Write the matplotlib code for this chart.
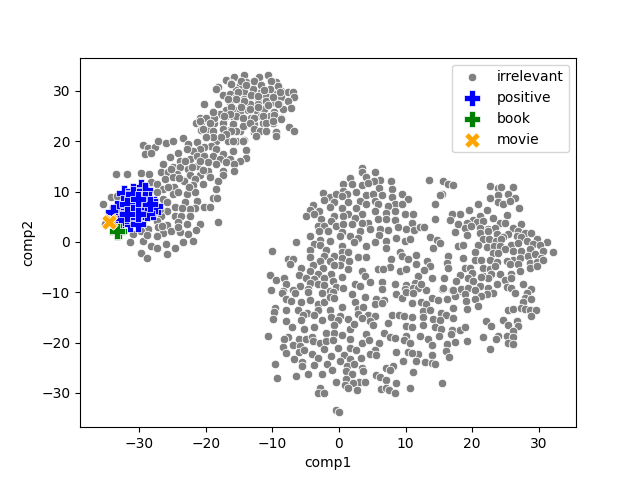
import matplotlib
matplotlib.use("Agg")
import matplotlib.pyplot as plt
import numpy as np

# (comp1, comp2), one list per blob
irrelevant_upper = [
    (-16.9,32.2),(-15.7,32.8),(-14.2,33.2),(-12.0,32.8),(-10.7,33.1),(-10.2,32.0),(-18.2,30.8),(-18.5,30.3),
    (-16.2,31.5),(-14.9,31.2),(-13.9,31.7),(-12.7,32.0),(-11.7,31.2),(-9.4,31.7),(-15.4,30.2),(-14.2,29.7),
    (-12.9,30.4),(-11.7,29.7),(-10.4,30.4),(-8.7,30.0),(-7.7,29.7),(-6.9,29.7),(-6.7,28.8),(-17.4,29.2),
    (-16.4,29.4),(-15.4,28.7),(-14.2,28.4),(-13.2,29.0),(-12.2,28.6),(-10.9,29.0),(-9.7,29.4),(-8.7,28.7),
    (-7.7,27.9),(-7.2,26.5),(-20.3,27.3),(-18.2,27.3),(-16.4,27.7),(-14.7,27.1),(-13.4,27.4),(-12.2,27.4),
    (-10.9,27.7),(-9.9,27.7),(-9.0,27.4),(-15.9,26.4),(-16.9,26.1),(-17.9,25.4),(-18.9,25.7),(-19.9,24.7),
    (-20.9,24.6),(-21.5,23.7),(-20.7,23.7),(-18.7,24.6),(-18.7,23.6),(-16.9,25.1),(-14.9,25.7),(-13.7,26.1),
    (-12.4,26.1),(-11.2,26.4),(-9.7,25.7),(-8.4,26.4),(-15.7,24.7),(-14.4,24.7),(-13.2,24.7),(-11.7,25.1),
    (-10.4,25.1),(-8.7,24.6),(-17.4,23.7),(-15.9,23.4),(-14.2,23.1),(-12.7,23.4),(-11.4,23.7),(-9.9,23.7),
    (-7.5,22.9),(-6.7,22.0),(-20.7,22.3),(-19.7,22.2),(-18.9,22.0),(-17.4,22.4),(-16.2,22.4),(-14.9,22.1),
    (-12.7,21.8),(-11.9,22.1),(-10.9,22.0),(-9.4,21.8),(-12.4,21.1),(-20.0,20.9),(-21.4,19.8),(-23.4,20.6),
    (-22.7,19.4),(-17.7,20.8),(-18.4,20.1),(-16.7,20.1),(-15.4,20.1),(-14.2,20.2),(-19.2,19.1),(-20.2,18.9),
    (-20.9,18.5),(-21.9,18.0),(-22.9,18.5),(-24.2,17.6),(-25.4,16.9),(-18.4,18.5),(-17.4,17.5),(-15.9,18.0),
    (-13.9,18.3),(-29.4,19.3),(-28.7,18.6),(-27.7,18.8),(-27.2,20.1),(-26.0,19.7),(-25.0,20.1),(-29.2,17.5),
    (-28.2,17.6),(-23.9,16.1),(-22.4,16.5),(-21.4,17.1),(-20.2,17.1),(-18.9,17.1),(-17.9,16.5),(-16.4,16.5),
    (-14.0,16.7),(-14.9,16.0),(-16.9,15.8),(-15.7,15.5),(-26.4,15.5),(-24.9,14.8),(-23.9,14.8),(-22.7,14.5),
    (-21.4,15.1),(-19.7,15.8),(-19.7,14.1),(-17.4,14.1),(-18.4,15.5),(-15.8,14.0),(-26.7,13.8),(-25.7,13.8),
    (-24.4,13.5),(-22.4,13.2),(-20.9,13.2),(-19.4,12.8),(-17.4,13.2),(-18.2,12.0),(-33.5,13.5),(-31.9,13.4),
    (-29.8,13.7),(-28.5,13.4),(-28.2,11.8),(-26.2,12.5),(-24.9,12.8),(-23.4,12.2),(-21.6,12.5),(-27.3,11.5),
    (-26.4,10.5),(-24.8,11.0),(-23.3,12.0),(-21.9,11.2),(-20.4,11.4),(-18.5,10.5),(-27.3,10.0),(-22.9,9.6),
    (-21.7,10.0),(-24.9,9.5),(-26.4,8.5),(-23.2,7.9),(-21.4,8.2),(-18.9,8.8),(-18.3,8.8),(-20.2,7.0),
    (-19.4,6.9),(-21.7,6.7),(-24.7,6.9),(-25.8,7.9),(-25.8,6.2),(-22.4,6.5),(-24.7,5.2),(-23.7,5.2),
    (-22.4,5.2),(-26.7,5.2),(-22.9,3.5),(-24.2,3.9),(-25.8,3.4),(-18.2,4.0),(-20.9,3.5),(-27.4,4.2),
    (-27.2,2.9),(-28.7,2.6),(-30.9,1.6),(-29.7,2.2),(-26.4,1.7),(-25.2,2.2),(-23.9,1.9),(-22.7,1.6),
    (-27.4,1.2),(-31.4,-0.1),(-29.4,0.2),(-26.0,-0.4),(-23.4,-0.1),(-21.9,0.1),(-28.2,-0.8),(-27.4,-1.3),
    (-24.7,-1.3),(-29.7,-2.3),(-28.9,-3.1),(-25.8,-2.5),(-34.2,9.0),(-35.5,7.5),(-35.2,3.5),(-33.4,9.2),
]

# second, closer reading of the dense part of the upper blob
irrelevant_upper_dense = [
    (-16.2,31.4),(-14.7,32.0),(-13.9,31.2),(-12.7,32.0),(-11.7,31.2),(-10.2,32.0),(-10.4,30.4),(-9.2,31.0),
    (-15.2,29.8),(-13.2,29.2),(-12.2,28.9),(-11.2,30.2),(-10.9,28.0),(-8.9,29.7),(-9.9,28.7),(-14.2,28.0),
    (-15.4,28.4),(-16.7,28.4),(-16.2,26.7),(-14.7,26.7),(-13.4,26.4),(-12.2,26.7),(-10.7,27.2),(-9.2,27.4),
    (-15.4,25.1),(-14.4,24.7),(-12.7,24.7),(-11.4,25.1),(-9.7,25.2),(-8.7,24.5),(-16.4,25.4),(-17.2,25.1),
    (-14.4,23.1),(-13.4,23.7),(-10.9,23.7),(-9.9,24.1),(-15.9,23.4),(-12.7,22.4),(-11.9,22.1),(-10.9,22.1),
    (-9.4,21.8),(-9.4,21.1),(-12.4,21.1),(-15.4,22.0),(-16.2,22.1),(-16.9,21.4),(-17.7,20.8),(-15.9,20.1),
    (-14.4,20.1),(-18.7,24.7),(-18.9,25.7),(-19.9,24.7),(-20.9,24.1),(-19.4,23.7),(-20.4,22.4),(-18.9,20.8),
    (-19.9,20.8),(-22.1,14.8),(-25.2,14.5),(-23.2,16.0),(-20.9,16.1),(-24.0,12.6),(-20.5,14.2),(-22.6,11.0),
    (-25.7,11.0),(-24.2,9.9),(-23.6,6.8),(-26.9,6.6),(-24.2,2.9),(-21.5,2.4),(-28.9,1.3),(-26.6,3.2),
]

irrelevant_top = [
    (3.4,14.6),(3.4,13.8),(5.4,13.9),(4.0,12.8),(1.7,12.7),(7.8,12.1),(6.1,12.3),(5.3,12.1),(0.6,11.5),
    (2.0,11.5),(3.4,11.3),(4.4,11.6),(0.6,10.1),(6.0,10.7),(7.9,10.5),(-2.4,9.8),(1.2,9.6),(2.6,10.0),
    (4.1,9.3),(5.1,9.5),(6.4,9.3),(7.9,9.0),(9.4,9.5),(10.3,8.5),(-1.4,9.0),(-0.5,9.5),(0.5,9.1),(-2.2,8.3),
    (-0.7,8.0),(1.4,8.0),(3.1,8.1),(5.4,8.1),(8.4,7.6),(9.5,7.5),(-3.9,7.3),(-1.4,7.0),(0.4,6.8),(2.6,6.8),
    (4.1,7.5),(5.9,7.5),(7.4,7.2),(-4.4,6.3),(-3.0,6.2),(-4.9,5.2),(-3.8,5.6),(8.4,6.2),(1.4,5.5),(-0.7,5.2),
    (3.4,5.5),(5.4,6.2),(7.1,5.8),(9.9,5.6),(11.1,5.5),(-1.2,4.2),(-2.7,4.5),(0.6,5.2),(2.4,4.8),(4.4,3.8),
    (5.9,4.5),(7.1,4.5),(8.4,4.3),(10.9,3.7),(-3.2,3.2),(-2.2,3.2),(-0.4,3.1),(0.6,3.5),(1.9,3.5),(3.4,3.8),
    (8.9,2.9),(10.1,2.5),(11.2,2.4),(12.1,2.9),(-3.0,2.1),(-1.6,2.1),(0.4,2.0),(1.6,1.2),(3.1,2.2),(4.6,2.5),
    (6.1,2.5),(7.4,2.4),(-4.4,1.2),(0.1,1.1),(-1.3,0.2),(-2.8,0.3),(2.9,0.7),(6.0,1.4),(-6.4,-0.1),(-3.8,-0.5),
    (2.2,-0.1),(5.4,-0.1),(7.0,0.2),(8.6,0.7),(9.9,0.2),(10.6,0.5),(-2.8,-0.7),(0.4,-0.8),(4.1,-0.8),(7.0,-1.3),
    (-4.4,-1.6),(-2.0,-1.6),(-10.1,-1.9),(0.4,-2.0),(1.4,-2.0),(9.2,-2.1),(-4.4,-3.0),(-2.2,-2.8),(-0.8,-2.8),
    (0.4,-3.1),(2.9,-3.0),(4.1,-3.0),(9.5,-2.8),(11.6,-2.6),(-7.7,-3.3),(-6.9,-3.3),(-7.4,-4.4),(-2.8,-3.8),
    (-1.4,-3.8),(0.1,-4.6),(1.5,-3.8),(7.8,-3.4),(10.4,-3.4),(11.6,-4.4),(-3.9,-4.6),(-0.7,-4.6),(7.6,-4.9),
    (3.4,-5.8),(-5.7,-5.2),(1.4,-5.4),(5.9,-5.4),(6.6,-5.4),(9.1,-5.8),(10.1,-5.4),(-4.4,-5.8),(-6.0,-6.5),
    (-2.4,-5.2),(-3.2,-6.4),(-1.2,-6.3),(-10.4,-6.6),(-9.4,-7.6),(-8.2,-7.2),(-5.0,-7.1),(-3.7,-7.4),(-2.2,-7.1),
    (0.4,-6.9),(3.9,-6.7),(11.9,-6.7),(-7.9,-8.3),(-4.4,-8.1),(-3.2,-8.3),(-0.9,-7.7),(4.6,-7.9),(6.5,-7.9),
    (11.4,-8.1),(-5.9,-8.7),(-2.2,-8.5),(2.4,-8.4),(8.4,-8.3),(10.1,-8.5),(-0.4,-8.9),(0.6,-9.1),(3.1,-8.7),
    (6.4,-9.4),(-10.2,-9.6),(-8.4,-9.7),(-6.9,-9.6),(-4.7,-9.4),(-1.4,-9.7),(9.9,-9.4),(11.1,-9.2),(11.9,-9.1),
]

irrelevant_bottom = [
    (-8.5,-10.1),(-6.6,-10.1),(-4.6,-10.0),(-2.5,-10.2),(-0.9,-9.9),(1.9,-10.4),(3.9,-10.9),(8.6,-10.4),
    (9.4,-11.1),(10.1,-9.9),(11.1,-10.1),(13.1,-9.6),(15.5,-9.3),(16.9,-9.5),(18.1,-9.7),(-8.0,-11.3),
    (-7.2,-11.7),(-5.7,-11.9),(-4.4,-11.5),(-3.2,-12.4),(-2.2,-11.9),(-1.4,-10.9),(-0.7,-11.1),(0.4,-12.9),
    (2.4,-11.9),(2.9,-13.4),(3.6,-12.9),(5.6,-11.4),(6.7,-11.5),(5.4,-12.4),(6.4,-12.2),(10.9,-12.1),
    (12.3,-11.9),(13.1,-12.4),(13.9,-11.1),(14.9,-11.5),(16.2,-11.3),(17.4,-10.7),(17.2,-13.1),(-9.6,-13.1),
    (-9.7,-13.9),(-7.9,-13.5),(-6.2,-13.6),(-3.2,-13.5),(-1.4,-13.5),(-4.8,-14.2),(-3.7,-14.6),(-5.4,-14.6),
    (0.1,-14.7),(2.9,-14.4),(4.4,-14.6),(5.4,-14.7),(8.0,-14.6),(9.0,-14.6),(9.7,-14.7),(11.0,-15.0),
    (12.6,-13.7),(13.6,-13.6),(15.3,-14.2),(14.1,-15.4),(16.1,-14.6),(17.2,-15.2),(-9.9,-15.4),(-5.7,-15.6),
    (-8.0,-15.7),(-2.6,-15.6),(-1.2,-15.0),(-0.2,-15.5),(1.4,-15.4),(3.5,-15.2),(4.6,-15.7),(5.1,-16.5),
    (7.4,-16.2),(12.6,-15.0),(15.1,-15.6),(10.0,-16.7),(11.0,-17.0),(12.6,-16.6),(14.4,-17.0),(15.3,-17.2),
    (18.0,-17.4),(16.9,-17.5),(-7.1,-17.0),(-5.2,-17.2),(-3.8,-17.0),(-0.7,-16.6),(1.6,-17.2),(2.3,-16.4),
    (-10.7,-18.7),(-7.7,-18.8),(-8.3,-19.3),(-6.0,-19.2),(-5.0,-19.3),(-4.1,-18.8),(-2.0,-18.0),(-0.7,-18.0),
    (0.4,-18.4),(4.0,-18.2),(6.7,-18.0),(7.7,-18.8),(8.4,-19.0),(10.0,-18.7),(9.7,-19.5),(12.2,-18.6),
    (13.3,-19.3),(15.0,-18.6),(16.8,-18.2),(16.2,-20.3),(-8.4,-20.8),(-6.9,-20.5),(-5.8,-20.7),(-3.9,-19.7),
    (-2.9,-20.1),(-1.9,-19.7),(-0.9,-19.5),(1.7,-19.2),(3.4,-20.1),(4.5,-19.5),(6.0,-20.1),(10.6,-20.1),
    (13.9,-20.5),(16.1,-21.7),(10.4,-21.9),(17.4,-19.8),(-7.9,-22.0),(-6.0,-21.8),(-5.2,-21.5),(-4.0,-22.2),
    (-2.2,-21.2),(-0.1,-21.0),(1.7,-21.1),(2.5,-21.5),(5.4,-21.5),(4.6,-22.3),(5.6,-22.5),(8.5,-21.8),
    (11.8,-22.3),(13.9,-22.4),(10.9,-22.0),(16.5,-22.8),(-6.8,-23.3),(-5.5,-23.9),(-3.1,-23.1),(-1.2,-22.7),
    (0.7,-22.5),(1.7,-23.2),(3.3,-23.0),(9.6,-23.7),(11.5,-23.7),(12.9,-23.9),(13.9,-24.1),(14.4,-24.2),
    (-9.6,-24.2),(-3.7,-24.4),(-1.8,-24.2),(0.1,-23.7),(1.2,-24.6),(2.2,-24.3),(-5.5,-24.6),(7.1,-25.0),
    (8.1,-24.6),(3.4,-25.0),(-1.0,-25.5),(1.1,-25.6),(7.7,-25.5),(3.6,-25.6),(11.1,-25.8),(-9.3,-27.0),
    (-6.5,-26.6),(-4.6,-26.3),(-2.5,-26.3),(2.0,-26.3),(5.6,-26.5),(6.1,-26.8),(-0.5,-27.8),(1.0,-27.2),
    (3.0,-27.8),(3.9,-27.8),(7.0,-27.5),(8.6,-28.0),(15.4,-28.0),(0.9,-28.4),(2.1,-28.0),(1.4,-29.1),
    (2.7,-29.5),(6.3,-29.3),(7.1,-29.1),(7.5,-29.4),(8.4,-30.0),(10.7,-29.1),(-2.8,-29.0),(-3.2,-30.0),
    (-2.3,-30.0),(-0.5,-33.3),(0.0,-33.7),
]

irrelevant_right = [
    (13.5,12.3),(15.6,12.1),(16.4,11.5),(17.1,11.2),(22.7,11.1),(23.9,10.7),(24.4,10.9),(26.2,11.0),(15.5,9.6),
    (15.2,9.3),(22.7,8.8),(23.9,9.3),(25.4,9.6),(26.4,8.7),(23.9,8.0),(24.7,7.6),(25.7,8.1),(27.1,6.8),(14.4,7.5),
    (20.9,7.5),(19.6,6.3),(22.2,6.3),(18.2,5.6),(16.9,5.5),(16.7,4.4),(14.4,4.5),(25.3,5.4),(21.2,5.2),(20.2,4.3),
    (19.3,3.8),(17.9,3.6),(20.8,4.0),(23.2,4.8),(21.6,4.2),(24.2,3.8),(24.9,3.8),(27.4,3.6),(12.7,3.0),(18.9,2.8),
    (19.9,3.2),(21.2,2.8),(22.4,2.5),(23.4,2.8),(26.2,2.8),(17.4,1.9),(19.3,1.3),(21.2,1.8),(22.4,2.2),(23.7,1.5),
    (25.4,1.6),(26.9,2.2),(27.9,1.8),(28.8,1.8),(24.7,0.9),(26.7,1.2),(27.4,0.9),(13.6,0.9),(14.7,0.3),(21.6,0.5),
    (22.6,0.5),(23.6,0.2),(24.4,0.5),(28.2,0.1),(29.7,0.5),(31.2,0.0),(15.1,-0.3),(14.1,-1.3),(17.9,-0.9),(18.7,-0.6),
    (20.9,-0.6),(22.3,-1.0),(25.9,-0.6),(26.9,-0.3),(29.2,-0.5),(30.2,-0.6),(23.3,-0.8),(24.2,-0.8),(20.4,-2.0),
    (24.9,-1.5),(26.2,-1.8),(27.4,-1.8),(28.7,-1.5),(30.7,-1.8),(23.2,-2.3),(23.9,-2.3),(32.2,-2.1),(16.4,-2.9),
    (18.6,-3.25),(20.4,-3.5),(21.4,-3.5),(26.2,-3.5),(27.2,-3.25),(28.4,-2.8),(29.4,-2.5),(30.4,-3.1),(22.7,-3.6),
    (23.7,-3.9),(25.2,-3.8),(13.2,-3.8),(16.2,-4.1),(25.7,-4.4),(26.9,-4.4),(28.7,-4.1),(29.7,-3.9),(30.7,-3.5),
    (13.7,-4.8),(18.9,-5.1),(19.7,-5.1),(16.3,-5.2),(21.7,-5.1),(22.7,-5.4),(23.4,-4.8),(28.7,-5.2),(29.7,-4.8),
    (27.2,-5.8),(12.7,-5.6),(20.0,-6.1),(18.2,-6.6),(21.7,-6.8),(22.9,-6.4),(24.2,-6.4),(25.9,-6.4),(13.9,-7.1),
    (15.7,-7.2),(19.4,-7.1),(22.4,-7.2),(24.9,-7.6),(25.9,-7.1),(17.6,-7.8),(20.1,-7.8),(21.3,-7.0),(12.3,-8.3),
    (27.7,-8.3),(21.2,-8.75),(22.4,-9.1),(23.7,-8.4),(25.2,-9.0),(25.9,-9.1),(15.6,-9.1),(17.1,-9.5),(18.4,-9.4),
    (19.4,-9.2),(20.4,-9.6),(28.9,-9.4),(28.2,-10.1),(23.2,-10.1),(22.3,-10.4),(21.4,-10.7),(26.4,-10.2),(18.9,-10.4),
    (20.4,-11.3),(27.9,-11.1),(28.8,-11.4),(19.1,-11.7),(27.7,-11.9),(20.9,-12.7),(19.2,-13.4),(25.4,-13.6),
    (26.2,-13.4),(27.4,-13.1),(27.9,-13.4),(28.7,-13.5),(29.6,-13.5),(28.8,-14.7),(24.7,-15.5),(26.7,-15.7),
    (22.1,-15.8),(22.9,-16.7),(25.4,-16.5),(18.2,-17.5),(18.9,-17.0),(26.9,-16.8),(26.2,-17.7),(23.9,-18.6),
    (25.2,-18.6),(21.7,-18.8),(23.6,-19.2),(26.2,-18.8),(19.2,-19.7),(25.4,-20.0),(26.2,-20.3),(22.7,-21.3),
]

positive = [
    (-29.8,11.0),(-32.3,9.8),(-30.9,10.2),(-29.2,10.3),(-31.7,8.8),(-30.1,9.2),(-28.6,8.5),(-33.4,6.7),
    (-31.4,6.9),(-29.4,7.5),(-27.6,7.2),(-33.9,5.9),(-32.4,5.2),(-30.7,4.9),(-29.2,5.9),(-27.9,5.9),
    (-31.4,3.5),(-32.7,4.2),(-30.2,3.5),(-30.4,8.2),(-28.9,6.5),(-31.9,7.5),(-30.9,5.9),(-30.9,9.5),
    (-29.2,8.5),(-27.7,7.1),(-29.4,6.5),(-32.8,4.8),(-28.9,5.8),(-30.2,5.5),(-28.4,7.5),(-30.2,8.5),(-31.9,5.5),
]
book = [(-33.3,1.9),(-33.0,2.2),(-33.4,2.2)]
movie = [(-34.4,4.2),(-34.5,4.0)]

irrelevant = np.array(irrelevant_upper + irrelevant_upper_dense + irrelevant_top
                      + irrelevant_bottom + irrelevant_right)
positive = np.array(positive)
book = np.array(book)
movie = np.array(movie)

fig, ax = plt.subplots(figsize=(6.4, 4.8), dpi=100)

ax.scatter(irrelevant[:, 0], irrelevant[:, 1], s=38, c='grey', edgecolors='white',
           linewidths=0.6, label='irrelevant')
ax.scatter(positive[:, 0], positive[:, 1], s=125, c='blue', marker='P', edgecolors='white',
           linewidths=0.5, label='positive')
ax.scatter(book[:, 0], book[:, 1], s=125, c='green', marker='P', edgecolors='white',
           linewidths=0.5, label='book')
ax.scatter(movie[:, 0], movie[:, 1], s=125, c='orange', marker='X', edgecolors='white',
           linewidths=0.5, label='movie')

ax.set_xlim(-38.9, 35.6)
ax.set_ylim(-36.8, 36.6)
ax.set_xlabel('comp1')
ax.set_ylabel('comp2')
ax.legend(loc='upper right')

fig.savefig('out.png', dpi=100)
